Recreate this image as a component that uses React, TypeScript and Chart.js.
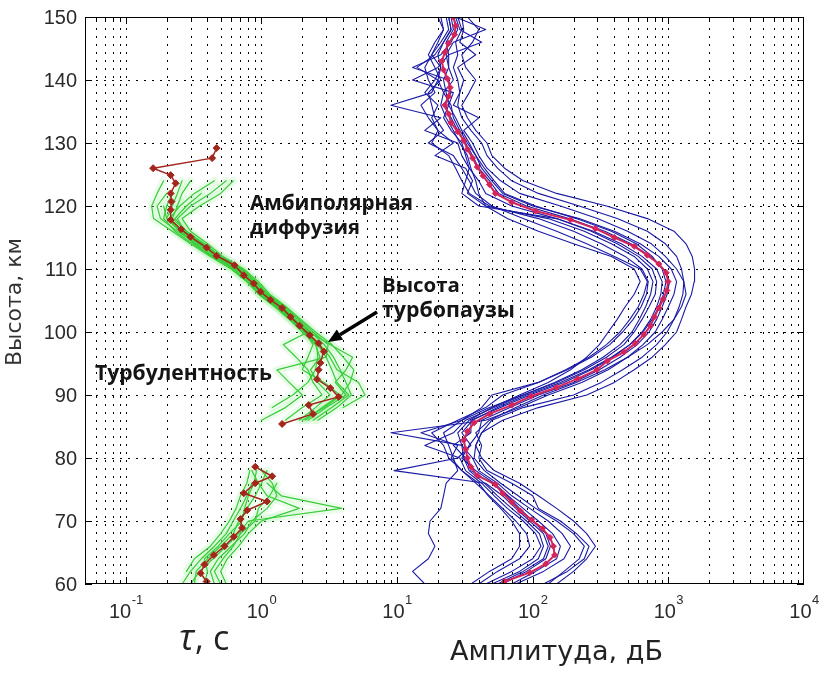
import { useEffect, useRef } from 'react';
import { Chart, registerables } from 'chart.js';

Chart.register(...registerables);

// ---- Amplitude profiles (blue), altitude step 2 km ----
const ampKm = [60, 62, 64, 66, 68, 70, 72, 74, 76, 78, 80, 82, 84, 86, 88, 90, 92, 94, 96, 98, 100, 102, 104, 106, 108, 110, 112, 114, 116, 118, 120, 122, 124, 126, 128, 130, 132, 134, 136, 138, 140, 142, 144, 146, 148, 150];

const ampRuns: number[][] = [
  [150, 200, 250, 290, 250, 200, 150, 110, 80, 52, 42, 38, 42, 60, 110, 250, 400, 560, 760, 950, 1150, 1250, 1350, 1480, 1550, 1560, 1500, 1350, 1100, 700, 350, 150, 85, 62, 50, 46, 38, 33, 30, 34, 38, 32, 30, 36, 40, 33],
  [40, 55, 80, 95, 90, 75, 60, 48, 38, 30, 24, 22, 18, 28, 45, 60, 110, 180, 270, 370, 460, 550, 630, 690, 710, 640, 480, 320, 200, 110, 48, 34, 30, 27, 24, 18, 20, 17, 15, 19, 17, 16, 18, 20, 22, 21],
  [16, 13, 17, 19, 17, 17.5, 21, 22, 23, 28, 26, 24, 22, 30, 48, 85, 150, 240, 350, 470, 560, 640, 720, 800, 820, 760, 600, 420, 270, 150, 40, 30, 32, 34, 30, 28, 16, 21, 9, 18, 20, 14, 19, 22, 25, 24],
  [75, 120, 170, 190, 165, 130, 95, 70, 55, 40, 36, 30, 9, 45, 80, 130, 230, 360, 500, 650, 800, 900, 1000, 1100, 1150, 1050, 850, 620, 400, 220, 100, 60, 50, 42, 38, 33, 29, 26, 25, 22, 26, 24, 23, 26, 45, 27],
  [55, 85, 120, 130, 120, 95, 75, 60, 45, 9.5, 28, 35, 30, 36, 55, 90, 160, 260, 380, 520, 640, 740, 820, 880, 900, 820, 640, 450, 280, 150, 70, 45, 40, 34, 32, 30, 25, 22, 24, 26, 13, 20, 24, 23, 26, 25],
  [120, 180, 240, 260, 210, 160, 110, 100, 70, 46, 40, 42, 38, 48, 75, 120, 210, 340, 500, 700, 900, 1100, 1250, 1350, 1300, 1150, 950, 750, 500, 300, 160, 80, 58, 46, 40, 36, 31, 40, 26, 29, 28, 26, 28, 27, 30, 28],
  [45, 70, 100, 115, 105, 85, 65, 52, 42, 32, 29, 16, 26, 32, 52, 85, 145, 230, 330, 440, 540, 610, 680, 740, 770, 700, 560, 380, 240, 130, 45, 33, 36, 32, 19, 26, 20, 18, 20, 16, 19, 21, 18, 21, 24, 23],
  [70, 105, 150, 160, 140, 110, 85, 66, 52, 38, 30, 34, 40, 42, 68, 110, 200, 310, 440, 590, 720, 820, 900, 980, 1020, 920, 740, 530, 340, 185, 90, 56, 48, 40, 36, 32, 28, 25, 22, 25, 24, 13, 21, 25, 28, 26],
  [60, 90, 125, 135, 125, 100, 80, 65, 50, 35, 32, 26, 35, 35, 58, 95, 170, 270, 390, 520, 650, 760, 850, 920, 960, 900, 760, 580, 380, 210, 105, 62, 52, 44, 38, 34, 30, 27, 24, 23, 22, 24, 24, 42, 29, 27],
  [50, 80, 110, 120, 112, 90, 70, 55, 44, 34, 31, 30, 28, 34, 50, 80, 130, 190, 250, 310, 360, 420, 480, 560, 620, 560, 380, 200, 110, 65, 45, 40, 38, 35, 33, 29, 26, 23, 21, 22, 20, 21, 20, 22, 25, 24],
  [130, 170, 220, 240, 200, 150, 105, 78, 58, 44, 37, 38, 42, 50, 85, 200, 320, 460, 640, 820, 980, 1100, 1200, 1280, 1300, 1250, 1150, 950, 700, 420, 220, 110, 70, 55, 46, 42, 35, 30, 28, 29, 31, 28, 38, 29, 31, 30],
  [35, 48, 70, 80, 80, 70, 58, 47, 40, 30, 25, 28, 15, 30, 42, 50, 110, 175, 260, 350, 440, 520, 600, 660, 700, 620, 400, 250, 150, 85, 50, 38, 34, 30, 26, 17, 22, 19, 18, 17, 21, 19, 17, 19, 22, 20],
];

// Mean amplitude profile (red diamonds)
const ampMeanKm = [60.4, 61.8, 63.2, 64.6, 66.0, 67.4, 68.8, 70.2, 71.6, 73.0, 74.4, 75.8, 77.2, 78.6, 80.0, 81.4, 82.8, 84.2, 85.6, 87.0, 88.4, 89.8, 91.2, 92.6, 94.0, 95.4, 96.8, 98.2, 99.6, 101.0, 102.4, 103.8, 105.2, 106.6, 108.0, 109.4, 110.8, 112.2, 113.6, 115.0, 116.4, 117.8, 119.2, 120.6, 122.0, 123.4, 124.8, 126.2, 127.6, 129.0, 130.4, 131.8, 133.2, 134.6, 136.0, 137.4, 138.8, 140.2, 141.6, 143.0, 144.4, 145.8, 147.2, 148.6, 150.0];
const ampMean = [62, 95, 125, 145, 142, 134, 118, 98, 81, 70, 60, 53, 39, 35, 33, 32, 31, 33, 37, 48, 70, 97, 150, 215, 297, 355, 470, 570, 660, 740, 790, 850, 915, 975, 995, 965, 850, 700, 560, 400, 290, 190, 105, 70, 53, 48, 43, 39, 36, 33, 31, 28, 25, 24, 22.5, 24, 24.6, 23.5, 22, 21.4, 22.5, 23.9, 26.5, 27, 26];

// ---- Time constant τ profiles (green), upper layer ----
const tauUpperKm = [124, 122, 120, 118, 116, 114, 112, 110, 108, 106, 104, 102, 100, 98, 96, 94, 92, 90, 88, 86];
const tauUpperRuns: (number | null)[][] = [
  [0.19, 0.17, 0.155, 0.16, 0.22, 0.30, 0.42, 0.60, 0.78, 0.95, 1.25, 1.6, 2.0, 2.5, 2.7, 2.3, 2.6, 3.2, 2.5, 1.9],
  [0.26, 0.24, 0.22, 0.2, 0.25, 0.34, 0.48, 0.68, 0.88, 1.1, 1.45, 1.85, 2.3, 2.9, 3.4, 3.8, 4.2, 4.6, 3.6, 2.6],
  [null, 0.36, 0.28, 0.23, 0.28, 0.37, 0.5, 0.72, 0.92, 1.12, 1.5, 1.9, 2.4, 3.1, 3.0, 1.3, 1.6, 2.0, 1.5, 1.0],
  [0.55, 0.42, 0.3, 0.24, 0.27, 0.36, 0.46, 0.64, 0.82, 1.0, 1.3, 1.65, 2.1, 2.7, 3.2, 3.6, 5.2, 5.8, 4.0, null],
  [null, 0.2, 0.17, 0.18, 0.24, 0.33, 0.45, 0.62, 0.8, 0.98, 1.3, 1.7, 2.2, 1.45, 1.8, 2.2, 2.4, 2.8, 2.0, 1.5],
  [0.3, 0.26, 0.24, 0.22, 0.28, 0.38, 0.5, 0.7, 0.9, 1.08, 1.42, 1.78, 2.25, 3.2, 4.7, 4.2, 3.5, 4.2, 3.0, 2.2],
  [null, null, 0.19, 0.2, 0.26, 0.35, 0.47, 0.66, 0.86, 1.05, 1.4, 1.75, 2.1, 2.4, 2.2, 2.0, 2.9, 3.8, 2.8, 2.1],
  [0.45, 0.32, 0.25, 0.21, 0.25, 0.32, 0.43, 0.6, 0.78, 0.96, 1.28, 1.62, 2.05, 2.6, 3.0, 3.3, 3.6, 4.4, 3.3, 2.4],
  [null, 0.22, 0.2, 0.19, 0.23, 0.31, 0.44, 0.64, 0.84, 1.02, 1.35, 1.68, 2.1, 2.55, 2.6, 2.5, 2.2, 1.7, 1.2, null],
  [0.62, 0.5, 0.35, 0.26, 0.3, 0.4, 0.52, 0.74, 0.95, 1.15, 1.52, 1.95, 2.5, 3.3, 4.0, 4.8, 4.5, 3.9, 2.9, 2.0],
];

// ---- τ profiles, lower layer ----
const tauLowerKm = [60, 62, 64, 66, 68, 70, 72, 74, 76, 78];
const tauLowerRuns: (number | null)[][] = [
  [0.26, 0.3, 0.36, 0.45, 0.55, 0.62, 0.7, 0.78, 0.85, null],
  [0.32, 0.33, 0.4, 0.5, 0.62, 0.68, 0.78, 0.9, 1.0, 1.1],
  [0.45, 0.42, 0.48, 0.6, 0.75, 0.85, 1.1, 1.3, 1.2, 1.0],
  [0.55, 0.5, 0.56, 0.68, 0.8, 1.0, 1.9, 1.1, 0.95, 0.85],
  [0.3, 0.35, 0.44, 0.55, 0.68, 0.8, 3.9, 1.4, 1.1, null],
  [0.38, 0.4, 0.38, 0.48, 0.58, 0.72, 0.75, 0.8, 0.88, 0.92],
  [null, 0.28, 0.32, 0.42, 0.5, 0.58, 0.65, 0.7, 0.78, 0.82],
  [0.5, 0.45, 0.52, 0.62, 0.7, 0.9, 0.95, 1.15, 1.3, null],
];

// Mean τ profiles (dark red diamonds)
const tauMeanUpperKm = [129.2, 127.6, 126.0, 124.9, 123.6, 122.0, 120.7, 119.4, 117.8, 116.3, 115.1, 113.4, 112.1, 110.6, 109.0, 107.7, 106.4, 105.1, 103.8, 102.4, 101.0, 99.5, 98.2, 96.9, 95.1, 94.0, 92.5, 91.1, 89.7, 88.4, 87.0, 85.4];
const tauMeanUpper = [0.467, 0.433, 0.159, 0.214, 0.233, 0.214, 0.217, 0.214, 0.214, 0.256, 0.300, 0.394, 0.467, 0.633, 0.741, 0.877, 0.983, 1.165, 1.42, 1.64, 1.91, 2.27, 2.64, 2.88, 2.72, 2.64, 2.57, 3.22, 3.71, 2.23, 2.40, 1.42];
const tauMeanLowerKm = [78.6, 77.1, 76.0, 74.4, 73.1, 71.7, 70.3, 68.9, 67.5, 66.0, 64.6, 63.1, 61.7, 60.4];
const tauMeanLower = [0.90, 1.20, 0.90, 0.74, 1.10, 0.785, 0.70, 0.72, 0.625, 0.535, 0.446, 0.38, 0.356, 0.394];

// Axis ticks
const xDecades = [-1, 0, 1, 2, 3, 4];
const yTicks = [60, 70, 80, 90, 100, 110, 120, 130, 140, 150];
const X_MIN = 0.05;
const X_MAX = 10000;

const W = 821;
const H = 673;

const SANS = '"Liberation Sans", Arial, sans-serif';
const LABEL = '"DejaVu Sans", Verdana, sans-serif';
const BOLD = '"Open Sans", "Noto Sans", sans-serif';
const SYMBOL = '"Open Sans", "Noto Sans", sans-serif';

function gridValues(): { v: number; major: boolean }[] {
  const out: { v: number; major: boolean }[] = [];
  const first = xDecades[0] - 1;
  for (let e = first; e < xDecades[xDecades.length - 1]; e++) {
    for (let m = 1; m <= 9; m++) {
      const v = m * Math.pow(10, e);
      if (v > X_MIN * 1.0001 && v < X_MAX) out.push({ v, major: m === 1 });
    }
  }
  return out;
}

function fitFont(ctx: CanvasRenderingContext2D, text: string, spec: string, family: string, width: number) {
  ctx.font = `${spec} 100px ${family}`;
  const w = ctx.measureText(text).width;
  const size = (100 * width) / w;
  ctx.font = `${spec} ${size}px ${family}`;
  return size;
}

const gridPlugin = {
  id: 'dottedGrid',
  beforeDatasetsDraw(chart: any) {
    const { ctx, chartArea: a, scales } = chart;
    const x = scales.x;
    const y = scales.y;
    ctx.save();
    ctx.strokeStyle = '#000';
    ctx.lineWidth = 1;
    ctx.setLineDash([2, 6]);
    for (const g of gridValues()) {
      const px = Math.round(x.getPixelForValue(g.v)) + 0.5;
      if (px <= a.left + 1 || px >= a.right - 1) continue;
      ctx.beginPath();
      ctx.moveTo(px, a.top + 3);
      ctx.lineTo(px, a.bottom);
      ctx.stroke();
    }
    for (const t of yTicks) {
      const py = Math.round(y.getPixelForValue(t)) + 0.5;
      if (py <= a.top + 1 || py >= a.bottom - 1) continue;
      ctx.beginPath();
      ctx.moveTo(a.left + 3, py);
      ctx.lineTo(a.right, py);
      ctx.stroke();
    }
    ctx.restore();
  },
  afterDatasetsDraw(chart: any) {
    const { ctx, chartArea: a, scales } = chart;
    const x = scales.x;
    const y = scales.y;
    ctx.save();
    ctx.setLineDash([]);
    ctx.strokeStyle = '#000';
    ctx.lineWidth = 1;
    // frame
    ctx.strokeRect(a.left + 0.5, a.top + 0.5, a.right - a.left - 1, a.bottom - a.top - 1);
    // inward ticks
    ctx.beginPath();
    for (const g of gridValues()) {
      const px = Math.round(x.getPixelForValue(g.v)) + 0.5;
      const len = g.major ? 7 : 4;
      ctx.moveTo(px, a.bottom);
      ctx.lineTo(px, a.bottom - len);
      ctx.moveTo(px, a.top);
      ctx.lineTo(px, a.top + len);
    }
    for (const t of yTicks) {
      const py = Math.round(y.getPixelForValue(t)) + 0.5;
      ctx.moveTo(a.left, py);
      ctx.lineTo(a.left + 7, py);
      ctx.moveTo(a.right, py);
      ctx.lineTo(a.right - 7, py);
    }
    ctx.stroke();

    // y tick labels
    ctx.fillStyle = '#2a2a2a';
    ctx.font = `20px ${SANS}`;
    ctx.textAlign = 'right';
    ctx.textBaseline = 'middle';
    for (const t of yTicks) {
      ctx.fillText(String(t), a.left - 8, y.getPixelForValue(t) + 1);
    }

    // x tick labels: 10 with superscript exponent
    ctx.textAlign = 'left';
    ctx.textBaseline = 'alphabetic';
    for (const e of xDecades) {
      const px = x.getPixelForValue(Math.pow(10, e));
      ctx.font = `20px ${SANS}`;
      const wBase = ctx.measureText('10').width;
      ctx.font = `13px ${SANS}`;
      const exp = String(e);
      const wExp = ctx.measureText(exp).width;
      const start = px - (wBase + wExp) / 2;
      ctx.font = `20px ${SANS}`;
      ctx.fillText('10', start, 618);
      ctx.font = `13px ${SANS}`;
      ctx.fillText(exp, start + wBase + 0.5, 604);
    }

    // axis titles
    ctx.fillStyle = '#333';
    ctx.save();
    ctx.translate(15, 302);
    ctx.rotate(-Math.PI / 2);
    ctx.textAlign = 'center';
    ctx.textBaseline = 'middle';
    fitFont(ctx, 'Высота, км', '', LABEL, 128);
    ctx.fillText('Высота, км', 0, 0);
    ctx.restore();

    ctx.fillStyle = '#222';
    ctx.textAlign = 'left';
    ctx.textBaseline = 'alphabetic';
    ctx.font = `italic 36px ${SYMBOL}`;
    ctx.fillText('τ', 179, 650);
    ctx.font = `34px ${SYMBOL}`;
    ctx.fillText(',', 195, 650);
    ctx.fillText('c', 213, 650);
    fitFont(ctx, 'Амплитуда, дБ', '', LABEL, 213);
    ctx.fillText('Амплитуда, дБ', 450, 660);

    // annotations
    ctx.fillStyle = '#141414';
    const note = (text: string, left: number, base: number, width: number) => {
      fitFont(ctx, text, 'bold', BOLD, width);
      ctx.fillText(text, left, base);
    };
    note('Амбиполярная', 250, 210, 163);
    note('диффузия', 250, 234, 110);
    note('Высота', 382, 292, 78);
    note('турбопаузы', 382, 317, 133);
    note('Турбулентность', 95, 380, 177);

    // arrow to the turbopause
    const x0 = 377, y0 = 312, x1 = 328, y1 = 342;
    const ang = Math.atan2(y1 - y0, x1 - x0);
    const head = 14;
    const hx = x1 - head * Math.cos(ang);
    const hy = y1 - head * Math.sin(ang);
    ctx.strokeStyle = '#000';
    ctx.lineWidth = 3.5;
    ctx.beginPath();
    ctx.moveTo(x0, y0);
    ctx.lineTo(hx, hy);
    ctx.stroke();
    ctx.fillStyle = '#000';
    ctx.beginPath();
    ctx.moveTo(x1, y1);
    ctx.lineTo(hx + 6 * Math.sin(ang), hy - 6 * Math.cos(ang));
    ctx.lineTo(hx - 6 * Math.sin(ang), hy + 6 * Math.cos(ang));
    ctx.closePath();
    ctx.fill();

    ctx.restore();
  },
};

function toPoints(km: number[], vals: (number | null)[]) {
  return km
    .map((k, i) => ({ x: vals[i], y: k }))
    .filter((p) => p.x !== null && p.x !== undefined) as { x: number; y: number }[];
}

export default function App() {
  const ref = useRef<HTMLCanvasElement>(null);

  useEffect(() => {
    const canvas = ref.current;
    if (!canvas) return;

    const traceStyle = (color: string, width: number, order: number) => ({
      showLine: true,
      borderColor: color,
      backgroundColor: color,
      borderWidth: width,
      pointRadius: 0,
      order,
    });
    const meanStyle = (color: string, width: number, radius: number) => ({
      showLine: true,
      borderColor: color,
      backgroundColor: color,
      borderWidth: width,
      pointStyle: 'rectRot',
      pointRadius: radius,
      pointBorderWidth: 1,
      order: 0,
    });

    const datasets: any[] = [];
    ampRuns.forEach((r) => datasets.push({ data: toPoints(ampKm, r), ...traceStyle('#1a1aa6', 1.1, 2) }));
    // soft halo under the dense green bundles, then the thin traces
    const tauSets: [number[], (number | null)[][]][] = [
      [tauUpperKm, tauUpperRuns],
      [tauLowerKm, tauLowerRuns],
    ];
    tauSets.forEach(([km, runs]) => {
      runs.forEach((r) => datasets.push({ data: toPoints(km, r), ...traceStyle('rgba(165,240,165,0.22)', 8, 4) }));
      runs.forEach((r) => datasets.push({ data: toPoints(km, r), ...traceStyle('#38cc38', 1.2, 3) }));
    });
    datasets.push({ data: toPoints(ampMeanKm, ampMean), ...meanStyle('#d4245a', 2, 3) });
    datasets.push({ data: toPoints(tauMeanUpperKm, tauMeanUpper), ...meanStyle('#a3261c', 1.5, 3.5) });
    datasets.push({ data: toPoints(tauMeanLowerKm, tauMeanLower), ...meanStyle('#a3261c', 1.5, 3.5) });

    const chart = new Chart(canvas, {
      type: 'scatter',
      data: { datasets },
      options: {
        animation: false,
        responsive: false,
        devicePixelRatio: 1,
        layout: { padding: { top: 17, right: 17, left: 0, bottom: 0 } },
        plugins: { legend: { display: false }, tooltip: { enabled: false } },
        elements: { line: { tension: 0, borderJoinStyle: 'round', borderCapStyle: 'round' } },
        scales: {
          x: {
            type: 'logarithmic',
            min: X_MIN,
            max: X_MAX,
            ticks: { display: false },
            grid: { display: false },
            border: { display: false },
            afterFit: (s: any) => {
              s.height = H - 584;
            },
          },
          y: {
            type: 'linear',
            min: 60,
            max: 150,
            ticks: { display: false, stepSize: 10 },
            grid: { display: false },
            border: { display: false },
            afterFit: (s: any) => {
              s.width = 85;
            },
          },
        },
      } as any,
      plugins: [gridPlugin],
    });

    return () => chart.destroy();
  }, []);

  return (
    <div style={{ position: 'absolute', left: 0, top: 0, width: W, height: H, background: '#fff' }}>
      <canvas ref={ref} width={W} height={H} style={{ display: 'block' }} />
    </div>
  );
}
